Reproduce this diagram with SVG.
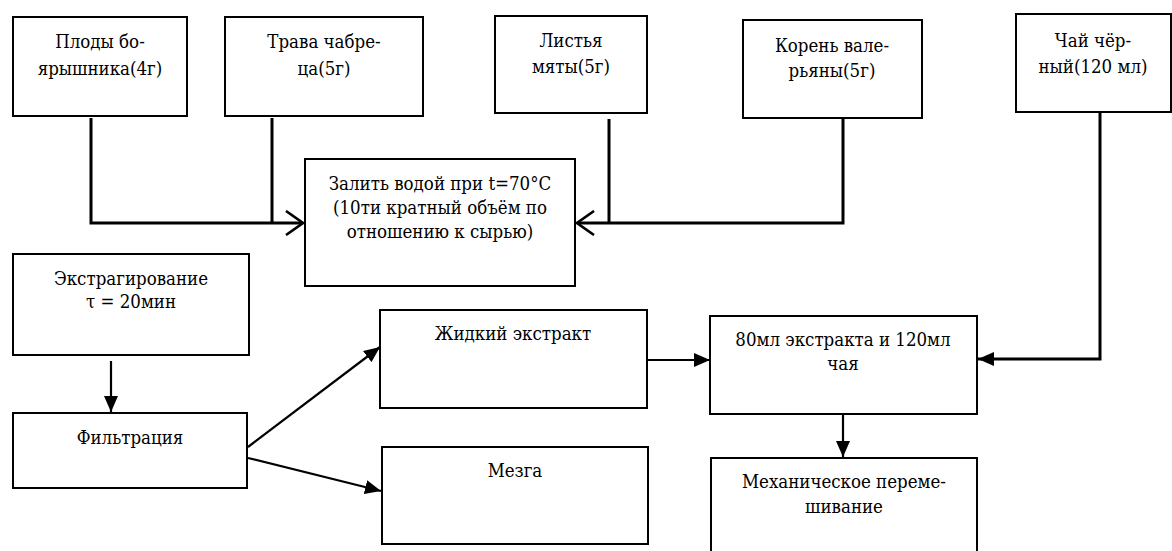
<svg xmlns="http://www.w3.org/2000/svg" width="1172" height="551" viewBox="0 0 1172 551">
  <style>
    .box { fill: #fff; stroke: #000; stroke-width: 2; }
    .t { font-family: "DejaVu Serif Condensed", "DejaVu Serif", serif; font-stretch: condensed; font-size: 18.5px; fill: #000; text-anchor: middle; }
    .thick { fill: none; stroke: #000; stroke-width: 3; }
    .thin { fill: none; stroke: #000; stroke-width: 2.2; }
  </style>
  <defs>
    <marker id="solid" viewBox="0 0 16 14" refX="16" refY="7" markerWidth="16" markerHeight="14" markerUnits="userSpaceOnUse" orient="auto">
      <path d="M0,0 L16,7 L0,14 Z" fill="#000"/>
    </marker>
    <marker id="open" viewBox="0 0 20 26" refX="18" refY="13" markerWidth="20" markerHeight="26" markerUnits="userSpaceOnUse" orient="auto">
      <path d="M1,1 L18,13 L1,25" fill="none" stroke="#000" stroke-width="2.6"/>
    </marker>
  </defs>

  <rect width="1172" height="551" fill="#fff"/>

  <!-- connectors -->
  <g id="connectors">
    <polyline class="thick" points="91,118 91,223 303,223" marker-end="url(#open)"/>
    <line class="thick" x1="272" y1="118" x2="272" y2="223"/>
    <polyline class="thick" points="843,118 843,223 577,223" marker-end="url(#open)"/>
    <line class="thick" x1="609" y1="119" x2="609" y2="223"/>
    <polyline class="thick" points="1100,112 1100,359 978,359" marker-end="url(#solid)"/>
    <line class="thin" x1="111" y1="361" x2="111" y2="412" marker-end="url(#solid)"/>
    <line class="thin" x1="248" y1="447" x2="380" y2="347" marker-end="url(#solid)"/>
    <line class="thin" x1="248" y1="458" x2="381" y2="491" marker-end="url(#solid)"/>
    <line class="thin" x1="648" y1="360" x2="710" y2="360" marker-end="url(#solid)"/>
    <line class="thin" x1="843" y1="414" x2="843" y2="457" marker-end="url(#solid)"/>
  </g>

  <g id="hawthorn">
    <rect class="box" x="13" y="17" width="174" height="99"/>
    <text class="t" x="100" y="48">Плоды бо-</text>
    <text class="t" x="100" y="75">ярышника(4г)</text>
  </g>
  <g id="thyme">
    <rect class="box" x="225" y="17" width="198" height="99"/>
    <text class="t" x="324" y="48">Трава чабре-</text>
    <text class="t" x="324" y="75">ца(5г)</text>
  </g>
  <g id="mint">
    <rect class="box" x="495" y="16" width="152" height="97"/>
    <text class="t" x="571" y="47">Листья</text>
    <text class="t" x="571" y="73">мяты(5г)</text>
  </g>
  <g id="valerian">
    <rect class="box" x="743" y="20" width="179" height="98"/>
    <text class="t" x="832" y="52">Корень вале-</text>
    <text class="t" x="832" y="77">рьяны(5г)</text>
  </g>
  <g id="black-tea">
    <rect class="box" x="1016" y="14" width="155" height="98"/>
    <text class="t" x="1093" y="47">Чай чёр-</text>
    <text class="t" x="1093" y="73">ный(120 мл)</text>
  </g>
  <g id="water">
    <rect class="box" x="305" y="159" width="270" height="127"/>
    <text class="t" x="440" y="190">Залить водой при t=70°C</text>
    <text class="t" x="440" y="214">(10ти кратный объём по</text>
    <text class="t" x="440" y="238">отношению к сырью)</text>
  </g>
  <g id="extraction">
    <rect class="box" x="13" y="254" width="236" height="101"/>
    <text class="t" x="131" y="285">Экстрагирование</text>
    <text class="t" x="131" y="308">τ = 20мин</text>
  </g>
  <g id="filtration">
    <rect class="box" x="13" y="413" width="234" height="75"/>
    <text class="t" x="130" y="444">Фильтрация</text>
  </g>
  <g id="liquid-extract">
    <rect class="box" x="380" y="310" width="267" height="98"/>
    <text class="t" x="513" y="340">Жидкий экстракт</text>
  </g>
  <g id="marc">
    <rect class="box" x="382" y="447" width="266" height="97"/>
    <text class="t" x="515" y="477">Мезга</text>
  </g>
  <g id="blend">
    <rect class="box" x="710" y="316" width="267" height="98"/>
    <text class="t" x="843" y="346">80мл экстракта и 120мл</text>
    <text class="t" x="843" y="370">чая</text>
  </g>
  <g id="mixing">
    <rect class="box" x="711" y="458" width="266" height="110"/>
    <text class="t" x="844" y="488">Механическое переме-</text>
    <text class="t" x="844" y="513">шивание</text>
  </g>
</svg>
